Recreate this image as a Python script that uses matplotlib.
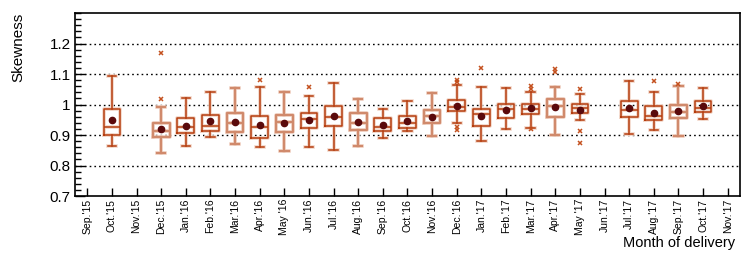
import numpy as np
import matplotlib
matplotlib.use("Agg")
import matplotlib.pyplot as plt
from matplotlib.ticker import MultipleLocator

plt.rcParams["font.family"] = ["Liberation Sans", "DejaVu Sans"]

months = ["Sep.'15", "Oct.'15", "Nov.'15", "Dec.'15", "Jan.'16", "Feb.'16", "Mar.'16",
          "Apr.'16", "May '16", "Jun.'16", "Jul.'16", "Aug.'16", "Sep.'16", "Oct.'16",
          "Nov.'16", "Dec.'16", "Jan.'17", "Feb.'17", "Mar.'17", "Apr.'17", "May '17",
          "Jun.'17", "Jul.'17", "Aug.'17", "Sep.'17", "Oct.'17", "Nov.'17"]

# None = no deliveries that month
whislo = [None, 0.864, None, 0.840, 0.863, 0.894, 0.870, 0.860, 0.848, 0.861, 0.851, 0.863,
          0.889, 0.912, 0.898, 0.939, 0.882, 0.921, 0.924, 0.899, 0.948, None, 0.904,
          0.917, 0.896, 0.952, None]
q1 = [None, 0.899, None, 0.895, 0.905, 0.912, 0.911, 0.891, 0.910, 0.924, 0.931, 0.916,
      0.912, 0.924, 0.941, 0.979, 0.929, 0.957, 0.970, 0.960, 0.972, None, 0.960,
      0.948, 0.957, 0.977, None]
med = [None, 0.926, None, 0.912, 0.926, 0.931, 0.941, 0.925, 0.944, 0.951, 0.959, 0.940,
       0.926, 0.941, 0.961, 0.993, 0.968, 0.985, 0.985, 0.995, 0.987, None, 0.983,
       0.961, 0.976, 0.989, None]
q3 = [None, 0.984, None, 0.939, 0.956, 0.966, 0.971, 0.961, 0.965, 0.973, 0.996, 0.971,
      0.957, 0.962, 0.981, 1.014, 0.984, 1.001, 1.002, 1.017, 1.003, None, 1.011,
      0.996, 1.000, 1.010, None]
whishi = [None, 1.094, None, 0.993, 1.023, 1.041, 1.055, 1.056, 1.042, 1.028, 1.070, 1.017,
          0.984, 1.013, 1.038, 1.063, 1.057, 1.054, 1.041, 1.057, 1.036, None, 1.077,
          1.041, 1.060, 1.055, None]
means = [None, 0.949, None, 0.920, 0.931, 0.946, 0.943, 0.934, 0.940, 0.949, 0.961, 0.944,
         0.934, 0.947, 0.960, 0.996, 0.961, 0.983, 0.988, 0.991, 0.981, None, 0.987,
         0.973, 0.980, 0.994, None]
mean_err = [None, 0.007, None, 0.007, 0.006, 0.006, 0.006, 0.007, 0.007, 0.006, 0.007, 0.006,
            0.006, 0.005, 0.005, 0.005, 0.006, 0.005, 0.005, 0.006, 0.005, None, 0.006,
            0.006, 0.006, 0.005, None]
outliers = [[], [], [], [1.170, 1.019], [], [], [], [1.079], [], [1.056], [], [],
            [], [], [], [1.082, 1.073, 0.926, 0.918], [1.119], [], [1.061, 1.050, 0.919],
            [1.115, 1.107], [1.051, 0.912, 0.873], [], [], [1.078], [1.068], [], []]
# drawing tone of each box: 1 = dark outline, 0 = pale outline
tone = [0, 1, 0, 0, 1, 1, 0, 1, 0, 1, 1, 0, 1, 1, 0, 1, 1, 1, 1, 0, 1, 0, 1, 1, 0, 1, 0]

dark = "#b53d0e"
pale = "#d08a6c"
halo = "#f2d6c8"

fig = plt.figure(figsize=(7.47, 2.61), dpi=100)
ax = fig.add_axes([0.1004, 0.249, 0.8902, 0.701])

x = np.arange(len(months))
for i in x:
    if whislo[i] is None:
        continue
    st = dict(whislo=whislo[i], q1=q1[i], med=med[i], q3=q3[i], whishi=whishi[i],
              fliers=outliers[i])
    col = dark if tone[i] else pale
    lw = 1.1 if tone[i] else 1.6
    # soft halo underneath, then the outline
    hp = dict(color=halo, lw=2.6)
    ax.bxp([st], positions=[i], widths=0.68, showfliers=False,
           boxprops=hp, whiskerprops=hp, capprops=hp, medianprops=hp,
           manage_ticks=False, zorder=2)
    lp = dict(color=col, lw=lw)
    ax.bxp([st], positions=[i], widths=0.68,
           boxprops=lp, whiskerprops=lp, capprops=lp, medianprops=lp,
           flierprops=dict(marker="x", markersize=3, markeredgecolor="#c4501e",
                           markeredgewidth=1.1, linestyle="none"),
           manage_ticks=False, zorder=3)
    ax.errorbar(i, means[i], yerr=mean_err[i], fmt="o", color="#5a0a0c", ms=4.5,
                elinewidth=1.3, capsize=0, zorder=5)

ax.set_xlim(-0.5, len(months) - 0.5)
ax.set_ylim(0.7, 1.3)
ax.set_xticks(x)
ax.set_xticklabels(months, rotation=90, fontsize=7.5)
ax.yaxis.set_minor_locator(MultipleLocator(0.02))
ax.set_yticks([0.7, 0.8, 0.9, 1.0, 1.1, 1.2])
ax.set_yticklabels(["0.7", "0.8", "0.9", "1", "1.1", "1.2"], fontsize=11)
ax.tick_params(axis="y", which="major", direction="in", length=7, width=1, pad=3)
ax.tick_params(axis="y", which="minor", direction="in", length=4, width=1)
ax.tick_params(axis="x", which="major", direction="in", length=6, width=1, pad=2)

for v in [0.8, 0.9, 1.0, 1.1, 1.2]:
    ax.axhline(v, color="black", lw=1.0, ls=(0, (1.2, 2.2)), zorder=1)

for s in ax.spines.values():
    s.set_linewidth(1.2)

ax.set_ylabel("Skewness", fontsize=11)
ax.yaxis.set_label_coords(-0.074, 1.0)
ax.yaxis.label.set_horizontalalignment("right")
fig.text(0.984, 0.055, "Month of delivery", ha="right", va="baseline", fontsize=10.5)

fig.savefig("out.png", dpi=100)
